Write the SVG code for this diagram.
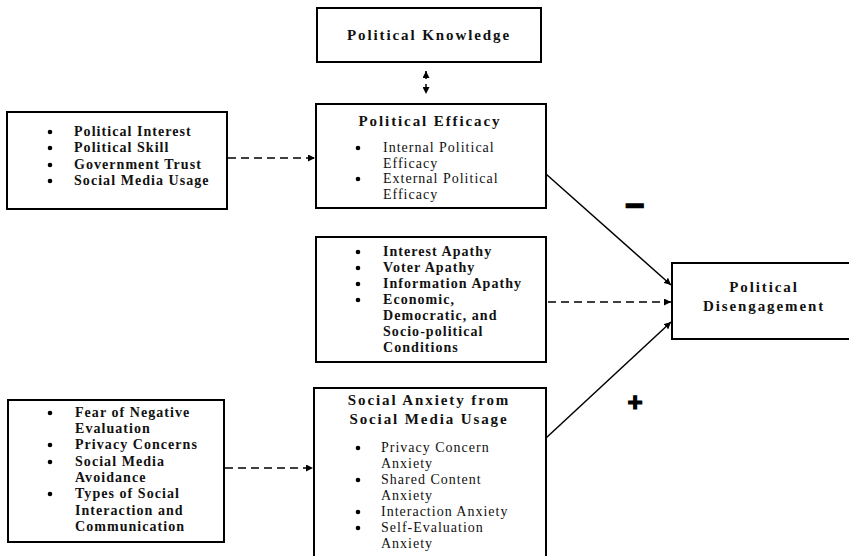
<svg xmlns="http://www.w3.org/2000/svg" width="849" height="556" viewBox="0 0 849 556">
<style>
.box{fill:#fff;stroke:#000;stroke-width:2}
.t{font-family:"Liberation Serif","Times New Roman",serif;fill:#111}
.title{font-size:15px;font-weight:bold;letter-spacing:1.9px}
.bb{font-size:14px;font-weight:bold;letter-spacing:1.05px}
.br{font-size:14px;letter-spacing:1px}
.dot{fill:#000}
.solid{stroke:#000;stroke-width:1.5;fill:none}
.dash{stroke:#000;stroke-width:1.5;fill:none;stroke-dasharray:8 5}
.sign{font-family:"Liberation Sans",Arial,sans-serif;font-weight:bold;font-size:26px;fill:#000;stroke:#000;stroke-width:1.2}
.minus{font-size:34px}
</style>
<defs>
<marker id="ah" viewBox="0 0 10 10" refX="10" refY="5" markerWidth="7" markerHeight="7" markerUnits="userSpaceOnUse" orient="auto-start-reverse">
<path d="M0,0 L10,5 L0,10 z" fill="#000"/>
</marker>
</defs>
<rect width="849" height="556" fill="#fff"/>

<g id="connectors">
<line class="dash" x1="426" y1="71" x2="426" y2="94" marker-start="url(#ah)" marker-end="url(#ah)"/>
<line class="dash" x1="228" y1="158" x2="315" y2="158" marker-end="url(#ah)"/>
<line class="dash" x1="225" y1="468" x2="313" y2="468" marker-end="url(#ah)"/>
<line class="solid" x1="546" y1="174" x2="671" y2="285" marker-end="url(#ah)"/>
<line class="dash" x1="548" y1="302" x2="671" y2="302" marker-end="url(#ah)"/>
<line class="solid" x1="546" y1="438" x2="671" y2="322" marker-end="url(#ah)"/>
<text class="sign minus" x="635" y="217" text-anchor="middle">−</text>
<text class="sign" x="635" y="411" text-anchor="middle">+</text>
</g>

<g id="political-knowledge">
<rect class="box" x="317" y="8" width="224" height="54"/>
<text class="t title" x="429" y="40" text-anchor="middle">Political Knowledge</text>
</g>

<g id="political-efficacy">
<rect class="box" x="316" y="104" width="230" height="104"/>
<text class="t title" x="430" y="126" text-anchor="middle">Political Efficacy</text>
<circle class="dot" cx="358" cy="148" r="2.3"/>
<circle class="dot" cx="358" cy="179" r="2.3"/>
<text class="t br" x="383" y="152">Internal Political</text>
<text class="t br" x="383" y="168">Efficacy</text>
<text class="t br" x="383" y="183">External Political</text>
<text class="t br" x="383" y="199">Efficacy</text>
</g>

<g id="antecedents-efficacy">
<rect class="box" x="7" y="112" width="220" height="97"/>
<circle class="dot" cx="50" cy="132" r="2.3"/>
<circle class="dot" cx="50" cy="148" r="2.3"/>
<circle class="dot" cx="50" cy="165" r="2.3"/>
<circle class="dot" cx="50" cy="181" r="2.3"/>
<text class="t bb" x="74" y="136">Political Interest</text>
<text class="t bb" x="74" y="152">Political Skill</text>
<text class="t bb" x="74" y="169">Government Trust</text>
<text class="t bb" x="74" y="185">Social Media Usage</text>
</g>

<g id="apathy-conditions">
<rect class="box" x="316" y="237" width="230" height="125"/>
<circle class="dot" cx="358" cy="252" r="2.3"/>
<circle class="dot" cx="358" cy="268" r="2.3"/>
<circle class="dot" cx="358" cy="284" r="2.3"/>
<circle class="dot" cx="358" cy="300" r="2.3"/>
<text class="t bb" x="383" y="256">Interest Apathy</text>
<text class="t bb" x="383" y="272">Voter Apathy</text>
<text class="t bb" x="383" y="288">Information Apathy</text>
<text class="t bb" x="383" y="304">Economic,</text>
<text class="t bb" x="383" y="320">Democratic, and</text>
<text class="t bb" x="383" y="336">Socio-political</text>
<text class="t bb" x="383" y="352">Conditions</text>
</g>

<g id="political-disengagement">
<rect class="box" x="672" y="263" width="182" height="76"/>
<text class="t title" x="764" y="292" text-anchor="middle">Political</text>
<text class="t title" x="764" y="311" text-anchor="middle">Disengagement</text>
</g>

<g id="antecedents-anxiety">
<rect class="box" x="8" y="400" width="216" height="142"/>
<circle class="dot" cx="50" cy="413" r="2.3"/>
<circle class="dot" cx="50" cy="445" r="2.3"/>
<circle class="dot" cx="50" cy="462" r="2.3"/>
<circle class="dot" cx="50" cy="494" r="2.3"/>
<text class="t bb" x="75" y="417">Fear of Negative</text>
<text class="t bb" x="75" y="433">Evaluation</text>
<text class="t bb" x="75" y="449">Privacy Concerns</text>
<text class="t bb" x="75" y="466">Social Media</text>
<text class="t bb" x="75" y="482">Avoidance</text>
<text class="t bb" x="75" y="498">Types of Social</text>
<text class="t bb" x="75" y="515">Interaction and</text>
<text class="t bb" x="75" y="531">Communication</text>
</g>

<g id="social-anxiety">
<rect class="box" x="314" y="388" width="232" height="180"/>
<text class="t title" x="429" y="405" text-anchor="middle">Social Anxiety from</text>
<text class="t title" x="429" y="424" text-anchor="middle">Social Media Usage</text>
<circle class="dot" cx="358" cy="448" r="2.3"/>
<circle class="dot" cx="358" cy="480" r="2.3"/>
<circle class="dot" cx="358" cy="512" r="2.3"/>
<circle class="dot" cx="358" cy="528" r="2.3"/>
<text class="t br" x="381" y="452">Privacy Concern</text>
<text class="t br" x="381" y="468">Anxiety</text>
<text class="t br" x="381" y="484">Shared Content</text>
<text class="t br" x="381" y="500">Anxiety</text>
<text class="t br" x="381" y="516">Interaction Anxiety</text>
<text class="t br" x="381" y="532">Self-Evaluation</text>
<text class="t br" x="381" y="548">Anxiety</text>
</g>
</svg>
